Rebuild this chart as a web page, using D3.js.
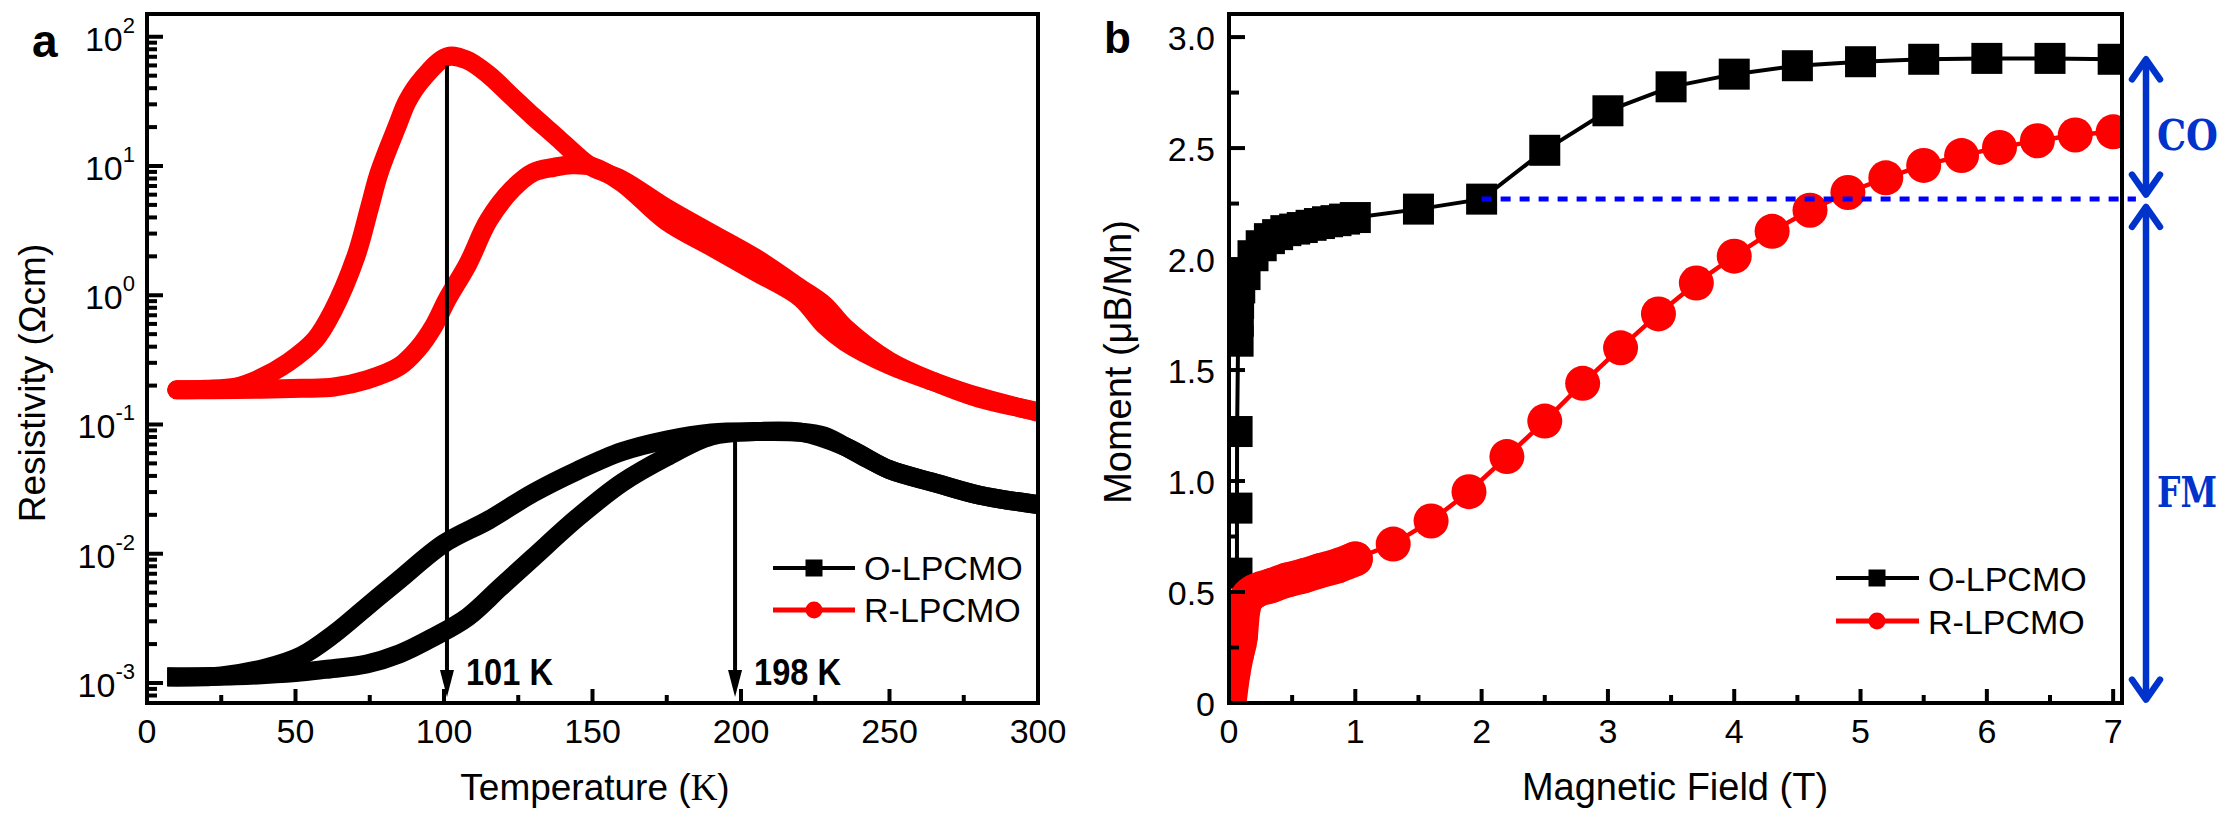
<!DOCTYPE html>
<html><head><meta charset="utf-8">
<script src="https://cdn.jsdelivr.net/npm/d3@7"></script>
<style>body{margin:0;background:#fff}svg{display:block}</style>
</head><body>
<svg id="c" width="2239" height="821"></svg>
<script>
// ================= DATA =================
// Panel a : resistivity vs temperature
const tempTicks = [0, 50, 100, 150, 200, 250, 300];
const rhoTickExps = [-3, -2, -1, 0, 1, 2];
const seriesNames = ["O-LPCMO", "R-LPCMO"];

const oCoolT   = [10,25,40,52,63,74,85,100,115,130,145,160,175,190,205,220,228,235,243,250,265,280,300];
const oCoolRho = [1.114e-3,1.135e-3,1.306e-3,1.622e-3,2.399e-3,3.89e-3,6.31e-3,1.20e-2,1.82e-2,2.95e-2,4.40e-2,6.17e-2,7.59e-2,8.61e-2,8.81e-2,8.71e-2,8.13e-2,6.76e-2,5.37e-2,4.47e-2,3.55e-2,2.85e-2,2.40e-2];
const oWarmT   = [10,30,50,60,74,85,96.5,108,119,130,145,160,175,190,205,220,235,250,265,280,300];
const oWarmRho = [1.114e-3,1.135e-3,1.202e-3,1.274e-3,1.403e-3,1.679e-3,2.265e-3,3.236e-3,5.50e-3,9.33e-3,1.905e-2,3.55e-2,5.62e-2,8.13e-2,8.81e-2,8.71e-2,6.76e-2,4.47e-2,3.55e-2,2.85e-2,2.40e-2];
const rCoolT   = [10,20,30,37,47.5,56.6,62.4,70.4,74.9,78.2,84.6,87.6,92.5,101,107.7,115,122.6,130,137.6,145.3,150,160,175,190,205,220,228,235,250,265,280,300];
const rCoolRho = [0.1854,0.1871,0.195,0.2213,0.302,0.452,0.741,2.018,4.73,8.91,21.4,31.6,46.5,70.0,66.1,50.8,34.9,24.2,17.0,11.75,9.77,7.82,4.72,3.02,1.936,1.132,0.843,0.562,0.309,0.214,0.160,0.126];
const rWarmT   = [10,30,52,63,74,85,91,96.5,101,108,115,123,130,137,143,150,160,175,190,205,220,228,235,250,265,280,300];
const rWarmRho = [0.1854,0.1862,0.1905,0.195,0.2213,0.2818,0.380,0.575,0.923,1.738,3.80,6.61,8.91,9.77,10.23,9.89,7.41,3.72,2.371,1.514,0.955,0.589,0.437,0.288,0.214,0.164,0.1245];

const transT      = [101, 198];          // arrow temperatures
const transTopRho = [60, 0.0733];        // arrow start
const transTipRho = 7.8e-4;              // arrow tip
const transLabels = ["101 K", "198 K"];

// Panel b : moment vs field
const fieldTicks = [0, 1, 2, 3, 4, 5, 6, 7];
const momentTicks = [0, 0.5, 1.0, 1.5, 2.0, 2.5, 3.0];
const momentTickLabels = ["0", "0.5", "1.0", "1.5", "2.0", "2.5", "3.0"];

const oH = [0,0.063,0.063,0.064,0.072,0.074,0.076,0.085,0.127,0.19,0.255,0.32,0.385,0.45,0.52,0.58,0.65,0.716,0.78,0.847,0.915,1.0,
            1.5,2.0,2.5,3.0,3.5,4.0,4.5,5.0,5.5,6.0,6.5,7.0];
const oM = [0,0.585,0.878,1.223,1.63,1.72,1.80,1.87,1.93,2.015,2.06,2.092,2.11,2.128,2.135,2.142,2.152,2.16,2.168,2.173,2.18,2.187,
            2.225,2.27,2.49,2.668,2.776,2.833,2.871,2.889,2.90,2.904,2.904,2.90];
const rH = [0,0.03,0.06,0.09,0.10,0.11,0.13,0.16,0.2,0.33,0.46,0.59,0.72,0.86,1.0,
            1.3,1.6,1.9,2.2,2.5,2.8,3.1,3.4,3.7,4.0,4.3,4.6,4.9,5.2,5.5,5.8,6.1,6.4,6.7,7.0];
const rM = [0,0.13,0.22,0.30,0.37,0.42,0.46,0.485,0.502,0.528,0.554,0.573,0.596,0.618,0.649,
            0.716,0.82,0.952,1.11,1.27,1.44,1.60,1.753,1.892,2.013,2.125,2.22,2.30,2.366,2.422,2.466,2.503,2.533,2.559,2.573];
const denseLimit = 1.0;     // field below which the R points are densely measured

const coLevel = 2.27;       // dashed level (moment at 2 T)
const coStartField = 2.0;
const coEndField = 7.18;
const annField = 7.26;
const coArrow = [2.90, 2.29];
const fmArrow = [2.235, 0.015];

// ================= DRAW =================
const FONT = "'Liberation Sans', Arial, Helvetica, sans-serif";
const BLUE = "#0033cc";
const svg = d3.select("#c");
const defs = svg.append("defs");

function txt(g, x, y, s, size, opts = {}) {
  const t = g.append("text").attr("x", x).attr("y", y)
    .attr("font-family", opts.family || FONT).attr("font-size", size)
    .attr("fill", opts.fill || "#000")
    .attr("text-anchor", opts.anchor || "start")
    .attr("font-weight", opts.weight || "normal")
    .text(s);
  if (opts.len) t.attr("textLength", opts.len).attr("lengthAdjust", "spacingAndGlyphs");
  return t;
}
function tick(g, x1, y1, x2, y2) {
  g.append("line").attr("x1", x1).attr("y1", y1).attr("x2", x2).attr("y2", y2)
    .attr("stroke", "#000").attr("stroke-width", 4);
}

// ---------- Panel a ----------
(function () {
  const L = 147, R = 1038, T = 14, B = 703;
  const x = d3.scaleLinear().domain([0, 300]).range([L, R]);
  const y = d3.scaleLog().domain([7e-4, 150]).range([B, T]);
  const g = svg.append("g");
  defs.append("clipPath").attr("id", "clipA").append("rect")
    .attr("x", L).attr("y", T).attr("width", R - L).attr("height", B - T);

  const line = d3.line().x(d => x(d[0])).y(d => y(d[1])).curve(d3.curveCatmullRom.alpha(0.5));
  const dg = g.append("g").attr("clip-path", "url(#clipA)");
  [[oCoolT, oCoolRho, "#000", "square"], [oWarmT, oWarmRho, "#000", "square"],
   [rCoolT, rCoolRho, "#ff0000", "round"], [rWarmT, rWarmRho, "#ff0000", "round"]]
    .forEach(([tt, rr, c, cap]) => {
      dg.append("path").attr("d", line(d3.zip(tt, rr)))
        .attr("fill", "none").attr("stroke", c).attr("stroke-width", 19)
        .attr("stroke-linecap", cap).attr("stroke-linejoin", "round");
    });

  // arrows
  transT.forEach((t, i) => {
    const xx = x(t), y0 = y(transTopRho[i]), y1 = y(transTipRho);
    g.append("line").attr("x1", xx).attr("x2", xx).attr("y1", y0).attr("y2", y1 - 20)
      .attr("stroke", "#000").attr("stroke-width", 4);
    g.append("path").attr("d", `M${xx},${y1} L${xx - 7},${y1 - 27} L${xx + 7},${y1 - 27} Z`).attr("fill", "#000");
    txt(g, xx + 19, 685, transLabels[i], 37, { weight: "bold", len: 87 });
  });

  // frame
  g.append("rect").attr("x", L).attr("y", T).attr("width", R - L).attr("height", B - T)
    .attr("fill", "none").attr("stroke", "#000").attr("stroke-width", 4);
  // x ticks
  tempTicks.forEach(v => { tick(g, x(v), B, x(v), B - 14); txt(g, x(v), 743, String(v), 34, { anchor: "middle" }); });
  d3.range(25, 300, 50).forEach(v => tick(g, x(v), B, x(v), B - 8));
  // y ticks
  rhoTickExps.forEach(e => {
    const yy = y(Math.pow(10, e));
    tick(g, L, yy, L + 16, yy);
    const t = g.append("text").attr("x", 135).attr("y", yy + 14).attr("text-anchor", "end")
      .attr("font-family", FONT).attr("font-size", 34);
    t.append("tspan").text("10");
    t.append("tspan").attr("dy", -18).attr("font-size", 22).text(String(e));
  });
  for (let e = -4; e <= 2; e++) for (let k = 2; k <= 9; k++) {
    const v = k * Math.pow(10, e);
    if (v > 7e-4 && v < 150) tick(g, L, y(v), L + 10, y(v));
  }
  // titles
  const xt = txt(g, 595, 800, "Temperature (", 37, { anchor: "middle" });
  xt.append("tspan").attr("font-family", "'Liberation Serif', 'Times New Roman', serif").text("K");
  xt.append("tspan").text(")");
  txt(g, 0, 0, "Resistivity (Ωcm)", 37, { anchor: "middle" })
    .attr("transform", "translate(45,383) rotate(-90)");
  txt(g, 32, 57, "a", 46, { weight: "bold" });

  // legend
  [[568, "#000", "square"], [610, "#ff0000", "circle"]].forEach(([ly, c, m], i) => {
    g.append("line").attr("x1", 773).attr("x2", 855).attr("y1", ly).attr("y2", ly)
      .attr("stroke", c).attr("stroke-width", i ? 5 : 4);
    if (m === "square") g.append("rect").attr("x", 814 - 8.5).attr("y", ly - 8.5).attr("width", 17).attr("height", 17).attr("fill", c);
    else g.append("circle").attr("cx", 814).attr("cy", ly).attr("r", 8.5).attr("fill", c);
    txt(g, 864, ly + 12, seriesNames[i], 34);
  });
})();

// ---------- Panel b ----------
(function () {
  const L = 1229, R = 2122, T = 14, B = 703;
  const x = d3.scaleLinear().domain([0, 7.07]).range([L, R]);
  const y = d3.scaleLinear().domain([0, 3.104]).range([B, T]);
  const g = svg.append("g");
  defs.append("clipPath").attr("id", "clipB").append("rect")
    .attr("x", L).attr("y", T).attr("width", R - L).attr("height", B - T);
  const dg = g.append("g").attr("clip-path", "url(#clipB)");
  const line = d3.line().x(d => x(d[0])).y(d => y(d[1]));

  const oPts = d3.zip(oH, oM), rPts = d3.zip(rH, rM);
  dg.append("path").attr("d", line(oPts)).attr("fill", "none").attr("stroke", "#000").attr("stroke-width", 4);
  dg.selectAll(".sq").data(oPts).enter().append("rect")
    .attr("x", d => x(d[0]) - 15.5).attr("y", d => y(d[1]) - 15.5)
    .attr("width", 31).attr("height", 31).attr("fill", "#000");

  const dense = rPts.filter(d => d[0] <= denseLimit);
  dg.append("path").attr("d", d3.line().x(d => x(d[0])).y(d => y(d[1])).curve(d3.curveMonotoneX)(dense))
    .attr("fill", "none").attr("stroke", "#ff0000").attr("stroke-width", 35)
    .attr("stroke-linecap", "round").attr("stroke-linejoin", "round");
  dg.append("path").attr("d", line(rPts)).attr("fill", "none").attr("stroke", "#ff0000").attr("stroke-width", 4.5);
  dg.selectAll(".ci").data(rPts).enter().append("circle")
    .attr("cx", d => x(d[0])).attr("cy", d => y(d[1])).attr("r", 17.5).attr("fill", "#ff0000");

  // dashed level
  g.append("line").attr("x1", x(coStartField)).attr("x2", x(coEndField))
    .attr("y1", y(coLevel)).attr("y2", y(coLevel))
    .attr("stroke", "#0000ff").attr("stroke-width", 5).attr("stroke-dasharray", "10 9");

  // frame
  g.append("rect").attr("x", L).attr("y", T).attr("width", R - L).attr("height", B - T)
    .attr("fill", "none").attr("stroke", "#000").attr("stroke-width", 4);
  fieldTicks.forEach(v => { tick(g, x(v), B, x(v), B - 14); txt(g, x(v), 743, String(v), 34, { anchor: "middle" }); });
  d3.range(0.5, 7, 1).forEach(v => tick(g, x(v), B, x(v), B - 8));
  momentTicks.forEach((v, i) => { tick(g, L, y(v), L + 16, y(v)); txt(g, 1215, y(v) + 12.5, momentTickLabels[i], 34, { anchor: "end" }); });
  d3.range(0.25, 3.1, 0.5).forEach(v => tick(g, L, y(v), L + 10, y(v)));

  txt(g, 1675, 800, "Magnetic Field (T)", 38, { anchor: "middle" });
  txt(g, 0, 0, "Moment (μB/Mn)", 38, { anchor: "middle" })
    .attr("transform", "translate(1131,362) rotate(-90)");
  txt(g, 1104, 53, "b", 44, { weight: "bold" });

  // legend
  [[578, "#000", "square"], [621, "#ff0000", "circle"]].forEach(([ly, c, m], i) => {
    g.append("line").attr("x1", 1836).attr("x2", 1919).attr("y1", ly).attr("y2", ly)
      .attr("stroke", c).attr("stroke-width", i ? 5 : 4);
    if (m === "square") g.append("rect").attr("x", 1877 - 8.5).attr("y", ly - 8.5).attr("width", 17).attr("height", 17).attr("fill", c);
    else g.append("circle").attr("cx", 1877).attr("cy", ly).attr("r", 8.5).attr("fill", c);
    txt(g, 1928, ly + 13, seriesNames[i], 34);
  });

  // double arrows
  const ax = x(annField);
  function arrow(yTop, yBot) {
    g.append("path").attr("d", `M${ax},${yTop} L${ax},${yBot}`)
      .attr("stroke", BLUE).attr("stroke-width", 6.5).attr("fill", "none");
    [[yTop, 20], [yBot, -20]].forEach(([yy, d]) => {
      g.append("path").attr("d", `M${ax - 14},${yy + d} L${ax},${yy} L${ax + 14},${yy + d}`)
        .attr("stroke", BLUE).attr("stroke-width", 6.5).attr("fill", "none")
        .attr("stroke-linecap", "round").attr("stroke-linejoin", "round");
    });
  }
  arrow(y(coArrow[0]), y(coArrow[1]));
  arrow(y(fmArrow[0]), y(fmArrow[1]));
  const serif = "'DejaVu Serif', 'Liberation Serif', serif";
  txt(g, 2157, 150, "CO", 42, { weight: "bold", fill: BLUE, family: serif, len: 61 });
  txt(g, 2157, 507, "FM", 42, { weight: "bold", fill: BLUE, family: serif, len: 60 });
})();
</script>
</body></html>
